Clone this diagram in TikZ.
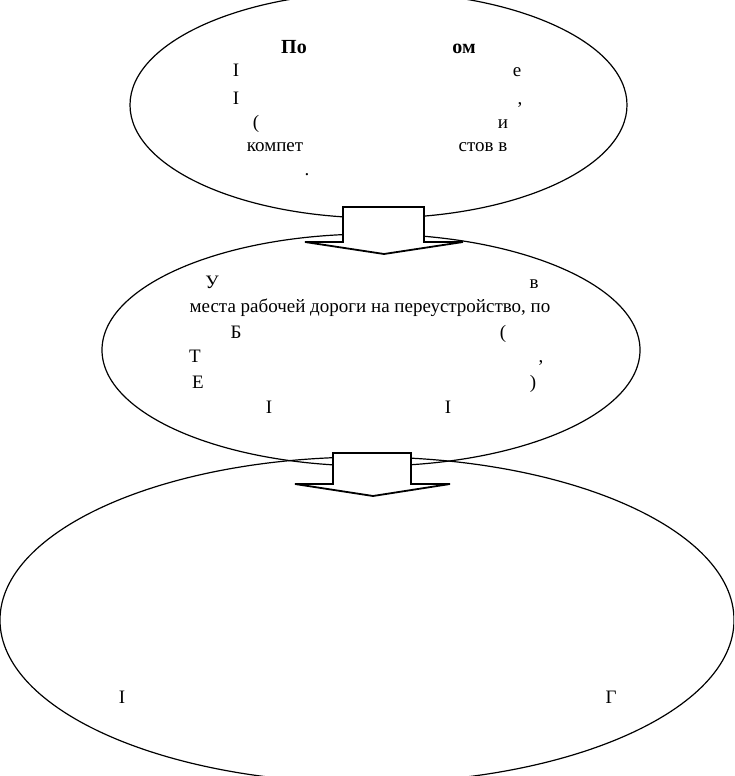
\documentclass[tikz,border=0pt]{standalone}
\usepackage{fontspec}
\setmainfont{Liberation Serif}
\usetikzlibrary{shapes.geometric}
\begin{document}
\begin{tikzpicture}[x=1pt,y=-1pt,
  oval/.style={draw=black,ellipse,line width=1.2pt,inner sep=0pt},
  blockarrow/.style={draw=black,fill=white,line width=1.8pt,line join=miter},
  frag/.style={anchor=base,inner sep=0pt,font=\fontsize{19}{23}\selectfont},
  bfrag/.style={frag,font=\fontsize{20}{24}\selectfont\bfseries}]
\useasboundingbox (0,0) rectangle (734,776);
\clip (0,0) rectangle (734,776);
% ellipses
\node[oval,minimum width=497pt,minimum height=226pt] (e1) at (378.5,105) {};
\node[oval,minimum width=538pt,minimum height=232pt] (e2) at (371,350) {};
\node[oval,minimum width=734pt,minimum height=326pt] (e3) at (367,620) {};
% block arrows
\draw[blockarrow] (343,207) -- (424,207) -- (424,242) -- (463,242) -- (384,254)
  -- (305,242) -- (343,242) -- cycle;
\draw[blockarrow] (333,453) -- (411,453) -- (411,484) -- (450,484) -- (373,496)
  -- (295,484) -- (333,484) -- cycle;
% text fragments, top ellipse
\node[bfrag] (t1a) at (294,53) {По};
\node[bfrag] (t1b) at (464,53) {ом};
\node[frag] (t2a) at (236,77) {I};
\node[frag] (t2b) at (517,77) {е};
\node[frag] (t3a) at (236,104) {I};
\node[frag] (t3b) at (520,104) {,};
\node[frag] (t4a) at (256,128) {(};
\node[frag] (t4b) at (503,128) {и};
\node[frag] (t5a) at (275,151) {компет};
\node[frag] (t5b) at (483,151) {стов в};
\node[frag] (t6a) at (307,175) {.};
% middle ellipse
\node[frag] (m1a) at (212,288) {У};
\node[frag] (m1b) at (534,288) {в};
\node[frag] (m2) at (370,312) {места рабочей дороги на переустройство, по};
\node[frag] (m3a) at (236,338) {Б};
\node[frag] (m3b) at (503,338) {(};
\node[frag] (m4a) at (195,362) {Т};
\node[frag] (m4b) at (541,362) {,};
\node[frag] (m5a) at (198,388) {Е};
\node[frag] (m5b) at (533,388) {)};
\node[frag] (m6a) at (269,413) {I};
\node[frag] (m6b) at (448,413) {I};
% bottom ellipse
\node[frag] (b1a) at (122,703) {I};
\node[frag] (b1b) at (611,703) {Г};
\end{tikzpicture}
\end{document}
